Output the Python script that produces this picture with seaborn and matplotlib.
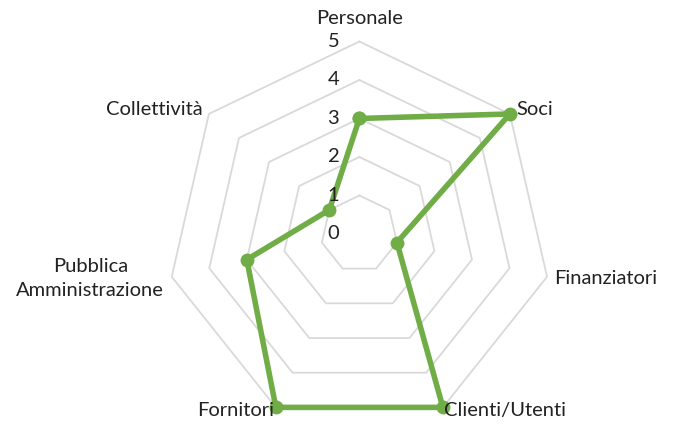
import numpy as np
import pandas as pd
import seaborn as sns
import matplotlib
matplotlib.use("Agg")
from matplotlib import pyplot as plt
from matplotlib import transforms

# data
categories = ["Personale", "Soci", "Finanziatori", "Clienti/Utenti",
              "Fornitori", "Pubblica\nAmministrazione", "Collettività"]
values = [3, 5, 1, 5, 5, 3, 1]
levels = [0, 1, 2, 3, 4, 5]

sns.set_theme(style="white")
plt.rcParams['font.family'] = ['Lato', 'DejaVu Sans']

n = len(categories)
angles = np.linspace(0, 2 * np.pi, n, endpoint=False)

# close the polygon
df = pd.DataFrame({"theta": list(angles) + [angles[0] + 2 * np.pi],
                   "value": values + [values[0]]})

fs = 14.5
txt = "#222222"

fig = plt.figure(figsize=(6.73, 4.25), dpi=100)
ax = fig.add_axes([0.248, -0.0035, 0.572, 0.906], projection="polar")
ax.set_theta_zero_location("N")
ax.set_theta_direction(-1)
ax.set_ylim(0, max(levels))
ax.grid(False)
ax.spines["polar"].set_visible(False)
ax.set_xticks([])
ax.set_yticks([])

# heptagon grid rings
ring_theta = list(angles) + [angles[0]]
for lv in levels[1:]:
    ax.plot(ring_theta, [lv] * len(ring_theta), color="#d9d9d9", lw=1.3,
            zorder=1, clip_on=False)

sns.lineplot(data=df, x="theta", y="value", sort=False, ax=ax,
             color="#70ad47", lw=4, marker="o", markersize=10,
             markeredgewidth=0, zorder=3)
for ln in ax.lines:
    ln.set_clip_on(False)
ax.set_xlabel("")
ax.set_ylabel("")

# scale labels, to the left of the top axis
off = transforms.offset_copy(ax.transData, fig=fig, x=-26, y=0, units="dots")
for lv in levels:
    ax.text(0, lv, str(lv), transform=off, ha="center", va="center",
            fontsize=fs, color=txt)

# category labels
for cat, a in zip(categories, angles):
    deg = np.degrees(a)
    if deg < 1:
        ax.text(a, 5.6, cat, ha="center", va="center", fontsize=fs, color=txt)
    elif deg < 180:
        r = 5.08 if deg > 140 else 5.2
        ax.text(a, r, cat, ha="left", va="center", fontsize=fs, color=txt)
    else:
        r = 5.08 if deg < 220 else 5.2
        ax.text(a, r, cat, ha="right", va="center", fontsize=fs, color=txt,
                multialignment="center", linespacing=1.55)

fig.savefig("out.png", dpi=100)
